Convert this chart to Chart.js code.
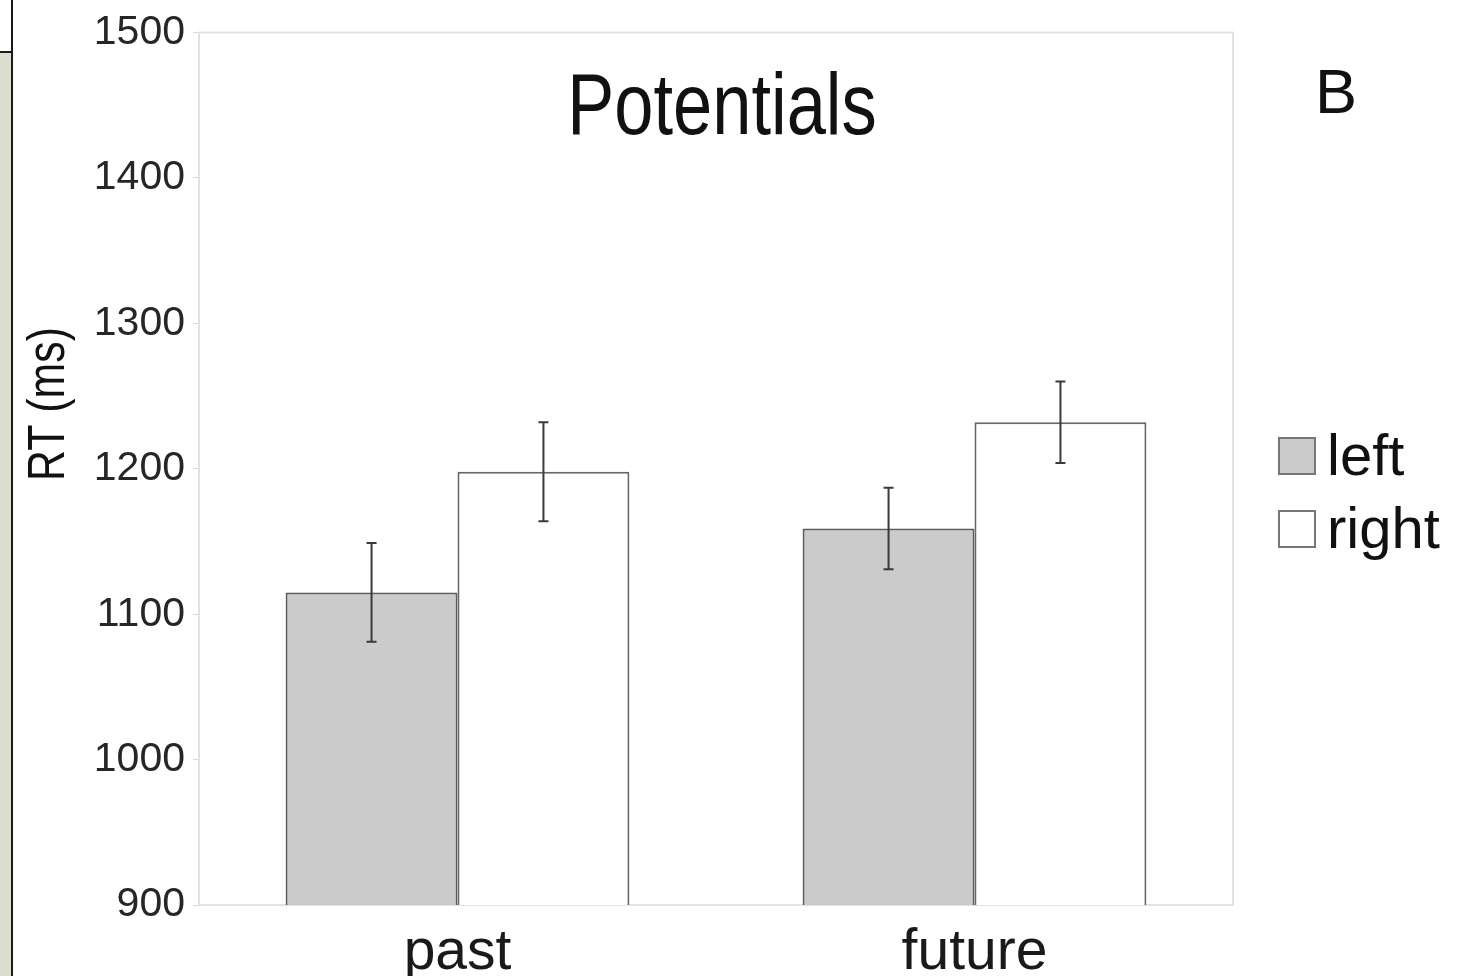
<!DOCTYPE html>
<html>
<head>
<meta charset="utf-8">
<script src="https://cdn.jsdelivr.net/npm/chart.js@4.4.0/dist/chart.umd.min.js"></script>
<style>
  body { margin: 0; background: #fff; }
  #wrap { position: relative; width: 1471px; height: 976px; overflow: hidden; }
  #chart { position: absolute; left: 0; top: 0; }
  .strip { position: absolute; left: 0; top: 53px; width: 11px; bottom: 0; background: #dcdcd1; }
  .vline { position: absolute; left: 11px; top: 0; width: 2px; bottom: 0; background: #1a1a1a; }
  .hline { position: absolute; left: 0; top: 51px; width: 12px; height: 2px; background: #1a1a1a; }
</style>
</head>
<body>
<div id="wrap">
  <canvas id="chart" width="1471" height="976"></canvas>
  <div class="strip"></div>
  <div class="vline"></div>
  <div class="hline"></div>
</div>
<script>
const categories = ['past', 'future'];
const seriesNames = ['left', 'right'];
const leftValues = [1115, 1159];
const rightValues = [1198, 1232];
const leftErrors = [34, 28];
const rightErrors = [34, 28];
const yTicks = [900, 1000, 1100, 1200, 1300, 1400, 1500];

const errorsBySeries = [leftErrors, rightErrors];

// error bars drawn from the bar elements and the y scale
const errorBars = {
  id: 'errorBars',
  afterDatasetsDraw(chart) {
    const ctx = chart.ctx;
    const y = chart.scales.y;
    ctx.save();
    ctx.strokeStyle = '#3a3a3a';
    ctx.lineWidth = 2;
    chart.data.datasets.forEach((ds, i) => {
      const meta = chart.getDatasetMeta(i);
      meta.data.forEach((bar, j) => {
        const v = ds.data[j];
        const e = errorsBySeries[i][j];
        const top = y.getPixelForValue(v + e);
        const bot = y.getPixelForValue(v - e);
        ctx.beginPath();
        ctx.moveTo(bar.x, top); ctx.lineTo(bar.x, bot);
        ctx.moveTo(bar.x - 5, top); ctx.lineTo(bar.x + 5, top);
        ctx.moveTo(bar.x - 5, bot); ctx.lineTo(bar.x + 5, bot);
        ctx.stroke();
      });
    });
    ctx.restore();
  }
};

// frame round the plot area
const frame = {
  id: 'frame',
  beforeDatasetsDraw(chart) {
    const { ctx, chartArea: a } = chart;
    ctx.save();
    ctx.strokeStyle = '#e2e2e2';
    ctx.lineWidth = 2;
    ctx.strokeRect(a.left, a.top, a.right - a.left, a.bottom - a.top);
    ctx.restore();
  }
};

// narrow text: no condensed font installed, so squeeze horizontally
function narrowText(ctx, text, x, y, sx) {
  ctx.save();
  ctx.translate(x, y);
  ctx.scale(sx, 1);
  ctx.fillText(text, 0, 0);
  ctx.restore();
}

// title, panel letter, axis title and legend
const extras = {
  id: 'extras',
  afterDraw(chart) {
    const ctx = chart.ctx;
    ctx.save();
    ctx.fillStyle = '#111';
    ctx.textBaseline = 'alphabetic';
    ctx.textAlign = 'center';
    ctx.font = '87px "Liberation Sans", sans-serif';
    narrowText(ctx, 'Potentials', 722, 134, 0.81);
    ctx.font = '63px "Liberation Sans", sans-serif';
    ctx.textAlign = 'left';
    ctx.fillText('B', 1315, 113);

    ctx.save();
    ctx.translate(64, 404);
    ctx.rotate(-Math.PI / 2);
    ctx.textAlign = 'center';
    ctx.font = '51px "Liberation Sans", sans-serif';
    narrowText(ctx, 'RT (ms)', 0, 0, 0.84);
    ctx.restore();

    const baselines = [475, 548];
    chart.data.datasets.forEach((ds, i) => {
      const b = baselines[i];
      ctx.fillStyle = ds.backgroundColor;
      ctx.fillRect(1279, b - 37, 36, 36);
      ctx.strokeStyle = '#777';
      ctx.lineWidth = 2;
      ctx.strokeRect(1279, b - 37, 36, 36);
      ctx.fillStyle = '#111';
      ctx.font = '58px "Liberation Sans", sans-serif';
      ctx.textAlign = 'left';
      ctx.fillText(ds.label, 1327, b);
    });
    ctx.restore();
  }
};

new Chart(document.getElementById('chart'), {
  type: 'bar',
  data: {
    labels: categories,
    datasets: [
      { label: seriesNames[0], data: leftValues, backgroundColor: '#cbcbcb', borderColor: '#5a5a5a', borderWidth: 2 },
      { label: seriesNames[1], data: rightValues, backgroundColor: '#ffffff', borderColor: '#666666', borderWidth: 2 }
    ]
  },
  options: {
    responsive: false,
    animation: false,
    datasets: { bar: { categoryPercentage: 0.665, barPercentage: 1.0 } },
    layout: { padding: { top: 31, right: 238, left: 0, bottom: 0 } },
    plugins: { legend: { display: false }, tooltip: { enabled: false } },
    scales: {
      x: {
        grid: { display: false },
        border: { display: false },
        ticks: { color: '#1a1a1a', padding: 6, font: { family: 'Liberation Sans', size: 57 } },
        afterFit(scale) { scale.height = 71; }
      },
      y: {
        min: yTicks[0],
        max: yTicks[yTicks.length - 1],
        afterBuildTicks(scale) { scale.ticks = yTicks.map(v => ({ value: v })); },
        grid: { drawOnChartArea: false, color: '#d8d8d8', tickLength: 6 },
        border: { display: false },
        ticks: {
          color: '#262626', padding: 8,
          font: { family: 'Liberation Sans', size: 41 },
          callback: (v) => String(v)
        },
        afterFit(scale) { scale.width = 199; }
      }
    }
  },
  plugins: [frame, errorBars, extras]
});
</script>
</body>
</html>
